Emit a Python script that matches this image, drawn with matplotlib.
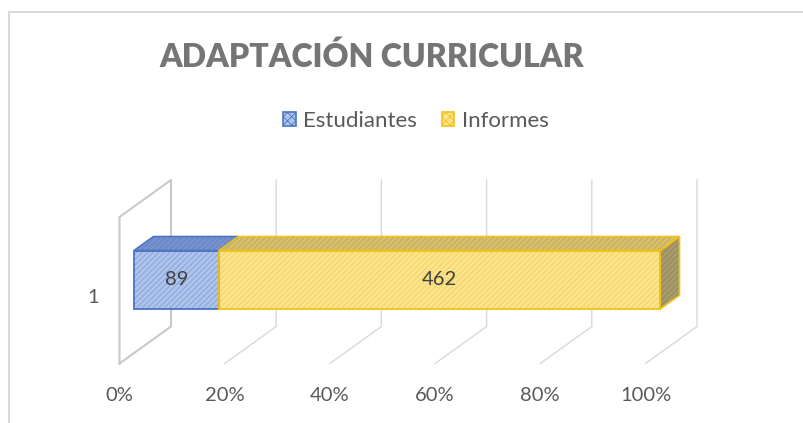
import numpy as np
import matplotlib.pyplot as plt
from matplotlib.patches import Polygon, Rectangle

# datos del grafico
categorias = ['1']
series = ['Estudiantes', 'Informes']
valores = [89, 462]
ticks = [0, 0.2, 0.4, 0.6, 0.8, 1.0]
tick_labels = ['0%', '20%', '40%', '60%', '80%', '100%']

plt.rcParams['font.family'] = ['Lato', 'DejaVu Sans']
plt.rcParams['hatch.linewidth'] = 0.6

col_front = ['#aec4ea', '#fbe48c']
col_hatch = ['#7f9dd8', '#f0cf5a']
col_edge = ['#4a74c4', '#f2c21a']
col_top = ['#6f8ac6', '#c8b46c']
col_side = '#a99c6c'

# proiezione "3d": spostamento per unita di profondita
dx = 51.5 / 526
dy = 37 / 146.5
d0, d1 = 0.28, 0.66  # profondita della barra
h = 0.4

fig = plt.figure(figsize=(8.04, 4.23), dpi=100)
ax = fig.add_axes([0, 0, 1, 1])
ax.set_xlim(-119.5 / 526, (804 - 119.5) / 526)
ax.set_ylim(0.5 - 59.5 / 146.5, 0.5 + 363.5 / 146.5)
ax.axis('off')

# bordo del grafico
fig.patches.append(Rectangle((8.5 / 804, -0.1), 1.1, 1 - 12 / 423 + 0.1,
                             transform=fig.transFigure, fill=False,
                             edgecolor='#d9d9d9', lw=1.5))

grid_col = '#d9d9d9'
y0 = 0.5
y1 = 1.5
for t in ticks:
    if t == 0:
        # parete laterale
        ax.plot([t, t, t + dx, t + dx, t], [y0, y1, y1 + dy, y0 + dy, y0],
                color='#c9c9c9', lw=1.5, zorder=1)
    else:
        ax.plot([t, t + dx, t + dx], [y0, y0 + dy, y1 + dy],
                color=grid_col, lw=1, zorder=1)

# barre
cat_y = 1
total = sum(valores)
fracs = np.array(valores) / total
lefts = np.concatenate([[0], np.cumsum(fracs)[:-1]])
for i, (l, w) in enumerate(zip(lefts, fracs)):
    r = l + w
    ax.barh(cat_y + d0 * dy, w, left=l + d0 * dx, height=h,
            color=col_front[i], edgecolor=col_hatch[i], hatch='//////',
            lw=0, zorder=3)
    ax.barh(cat_y + d0 * dy, w, left=l + d0 * dx, height=h,
            fill=False, edgecolor=col_edge[i], lw=1.3, zorder=4)
    top = [(l + d0 * dx, cat_y + h / 2 + d0 * dy),
           (r + d0 * dx, cat_y + h / 2 + d0 * dy),
           (r + d1 * dx, cat_y + h / 2 + d1 * dy),
           (l + d1 * dx, cat_y + h / 2 + d1 * dy)]
    ax.add_patch(Polygon(top, closed=True, facecolor=col_top[i],
                         edgecolor=col_hatch[i], hatch='//////', lw=0, zorder=3))
    ax.add_patch(Polygon(top, closed=True, fill=False,
                         edgecolor=col_edge[i], lw=1.2, zorder=4))
    if i == len(valores) - 1:
        side = [(r + d0 * dx, cat_y - h / 2 + d0 * dy),
                (r + d0 * dx, cat_y + h / 2 + d0 * dy),
                (r + d1 * dx, cat_y + h / 2 + d1 * dy),
                (r + d1 * dx, cat_y - h / 2 + d1 * dy)]
        ax.add_patch(Polygon(side, closed=True, facecolor=col_side,
                             edgecolor='#8f8458', hatch='//////', lw=0, zorder=3))
        ax.add_patch(Polygon(side, closed=True, fill=False,
                             edgecolor=col_edge[i], lw=1.2, zorder=4))
    ax.text(l + w / 2 + d0 * dx, cat_y + d0 * dy, str(valores[i]),
            ha='center', va='center', fontsize=14.5, color='#404040', zorder=5)

# etichette assi
for t, lab in zip(ticks, tick_labels):
    ax.text(t, 0.5 - 32 / 146.5, lab, ha='center', va='center',
            fontsize=14.5, color='#595959')
ax.text(-26 / 526, cat_y - 0.05, categorias[0], ha='center', va='center',
        fontsize=14.5, color='#595959')

# titolo e legenda
fig.text(371.5 / 804, 1 - 57 / 423, 'ADAPTACIÓN CURRICULAR', ha='center',
         va='center', fontsize=23, fontweight='heavy', color='#757575')
handles = [Rectangle((0, 0), 1, 1, facecolor=col_front[i], edgecolor=col_edge[i],
                     hatch='xxxx', lw=1.2) for i in range(len(series))]
fig.legend(handles, series, loc='center', bbox_to_anchor=(416 / 804, 1 - 121 / 423),
           ncol=2, frameon=False, fontsize=16, labelcolor='#595959',
           handlelength=0.55, handleheight=0.55, handletextpad=0.35, columnspacing=1.1)

plt.savefig('out.png', dpi=100)
